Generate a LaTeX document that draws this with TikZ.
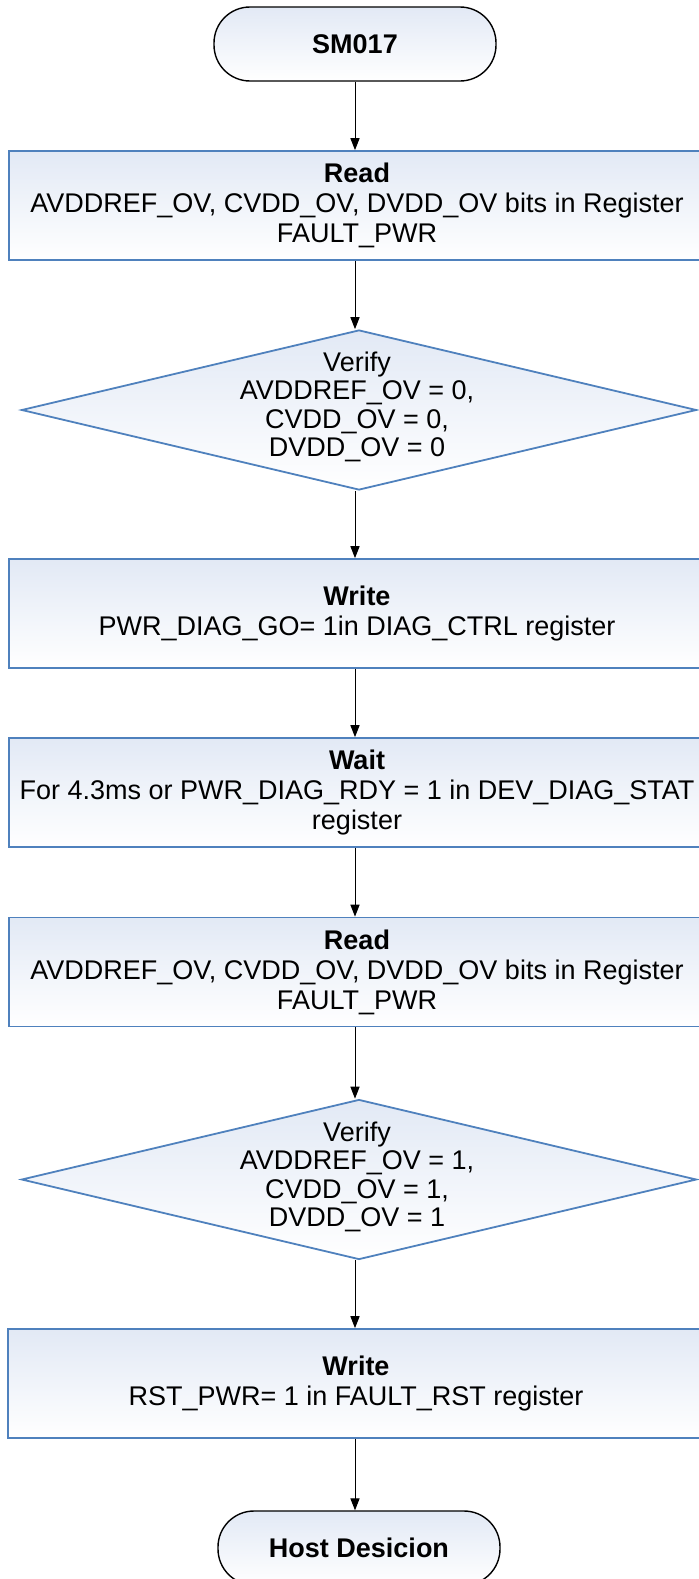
\documentclass[tikz,border=0pt]{standalone}
\usepackage{fontspec}
\setmainfont{Liberation Sans}
\usetikzlibrary{arrows.meta,shapes.geometric,positioning}
\definecolor{boxline}{HTML}{4F81BD}
\definecolor{boxtop}{HTML}{E2E9F5}

\begin{document}
\begin{tikzpicture}[x=0.5pt, y=-0.5pt,
    font=\fontsize{13.5}{15}\selectfont,
    term/.style={draw=black, line width=0.7pt, rounded corners=18pt, minimum width=141pt, minimum height=37pt, top color=boxtop, bottom color=white},
    proc/.style={draw=boxline, line width=0.9pt, minimum width=348pt, minimum height=54.5pt, align=center, top color=boxtop, bottom color=white, inner sep=0pt},
    decision/.style={diamond, draw=boxline, line width=0.9pt, minimum width=337.5pt, minimum height=80pt, inner sep=0pt, top color=boxtop, bottom color=white},
    txt/.style={align=center, inner sep=0pt, font=\fontsize{13.5}{14.2}\selectfont},
    arr/.style={-{Triangle[length=6pt, width=4.6pt]}, line width=0.5pt}
]
\useasboundingbox (0,0) rectangle (699,1579);

\node[term] (start) at (355,44) {\textbf{SM017}};
\node[proc] (read1) at (357,205.5) {\textbf{Read}\\AVDDREF\_OV, CVDD\_OV, DVDD\_OV bits in Register\\FAULT\_PWR};
\node[decision] (verify1) at (359,410) {};
\node[txt] at (357,407) {Verify\\AVDDREF\_OV = 0,\\CVDD\_OV = 0,\\DVDD\_OV = 0};
\node[proc] (write1) at (357,613.5) {\textbf{Write}\\PWR\_DIAG\_GO= 1in DIAG\_CTRL register};
\node[proc] (wait) at (357,792.5) {\textbf{Wait}\\For 4.3ms or PWR\_DIAG\_RDY = 1 in DEV\_DIAG\_STAT\\register};
\node[proc] (read2) at (357,972) {\textbf{Read}\\AVDDREF\_OV, CVDD\_OV, DVDD\_OV bits in Register\\FAULT\_PWR};
\node[decision] (verify2) at (359,1179.5) {};
\node[txt] at (357,1177) {Verify\\AVDDREF\_OV = 1,\\CVDD\_OV = 1,\\DVDD\_OV = 1};
\node[proc] (write2) at (356,1383.5) {\textbf{Write}\\RST\_PWR= 1 in FAULT\_RST register};
\node[term] (host) at (359,1548) {\textbf{Host Desicion}};

\draw[arr] (start) -- (start |- read1.north);
\draw[arr] (start |- read1.south) -- (start |- verify1.north);
\draw[arr] (start |- verify1.south) -- (start |- write1.north);
\draw[arr] (start |- write1.south) -- (start |- wait.north);
\draw[arr] (start |- wait.south) -- (start |- read2.north);
\draw[arr] (start |- read2.south) -- (start |- verify2.north);
\draw[arr] (start |- verify2.south) -- (start |- write2.north);
\draw[arr] (start |- write2.south) -- (start |- host.north);
\end{tikzpicture}
\end{document}
